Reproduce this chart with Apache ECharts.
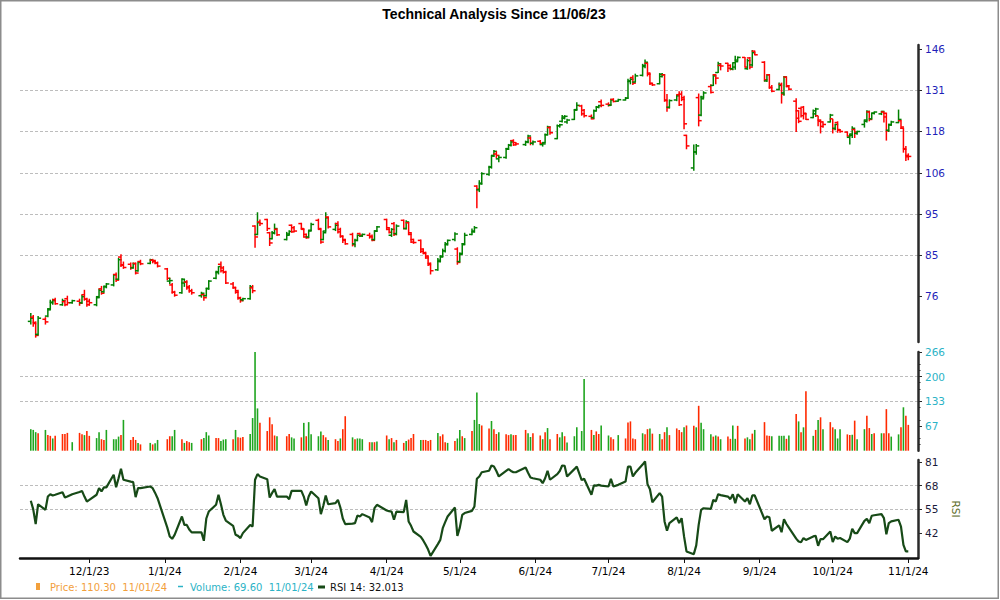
<!DOCTYPE html>
<html>
<head>
<meta charset="utf-8">
<script src="https://cdn.jsdelivr.net/npm/echarts@6/dist/echarts.min.js"></script>
<style>
html,body{margin:0;padding:0;background:#fff;}
#chart{width:1000px;height:600px;}
</style>
</head>
<body>
<div id="chart"></div>
<script>
// ---------------- DATA ----------------
const chartTitle = 'Technical Analysis Since 11/06/23';

const months = ['2023-11','2023-12','2024-01','2024-02','2024-03','2024-04','2024-05','2024-06','2024-07','2024-08','2024-09','2024-10','2024-11'];
const monthDays = [
  [7,8,9,10,13,14,15,16,17,20,21,22,24,27,28,29,30],
  [1,4,5,6,7,8,11,12,13,14,15,18,19,20,21,22,26,27,28,29],
  [2,3,4,5,8,9,10,11,12,16,17,18,19,22,23,24,25,26,29,30,31],
  [1,2,5,6,7,8,9,12,13,14,15,16,20,21,22,23,26,27,28,29],
  [1,4,5,6,7,8,11,12,13,14,15,18,19,20,21,22,25,26,27,28],
  [1,2,3,4,5,8,9,10,11,12,15,16,17,18,19,22,23,24,25,26,29,30],
  [1,2,3,6,7,8,9,10,13,14,15,16,17,20,21,22,23,24,28,29,30,31],
  [3,4,5,6,7,10,11,12,13,14,17,18,20,21,24,25,26,27,28],
  [1,2,3,5,8,9,10,11,12,15,16,17,18,19,22,23,24,25,26,29,30,31],
  [1,2,5,6,7,8,9,12,13,14,15,16,19,20,21,22,23,26,27,28,29,30],
  [3,4,5,6,9,10,11,12,13,16,17,18,19,20,23,24,25,26,27,30],
  [1,2,3,4,7,8,9,10,11,14,15,16,17,18,21,22,23,24,25,28,29,30,31],
  [1]
];

// [open, high, low, close]
const ohlc = [
  // Nov 2023
  [71.4,73.0,70.8,72.0],[72.2,72.6,70.4,71.0],[71.2,71.4,68.4,68.8],[69.0,72.4,68.8,72.0],[71.8,72.2,70.8,71.3],
  [72.4,73.9,72.2,73.6],[73.8,75.6,73.6,75.0],[75.1,75.8,74.6,75.4],[75.6,76.0,74.6,74.8],[74.6,75.8,74.4,75.4],
  [75.2,75.6,74.3,74.6],[75.8,76.4,74.5,75.0],[75.0,75.6,74.8,75.4],[75.3,75.8,74.4,74.9],[75.0,76.6,74.8,76.2],
  [76.6,77.6,75.4,75.7],[75.7,76.0,74.2,74.6],
  // Dec 2023
  [75.3,75.8,74.4,75.0],[74.6,76.3,74.3,76.0],[76.2,77.8,76.0,77.5],[77.8,78.4,76.6,76.9],[77.2,78.5,77.0,78.3],
  [78.2,79.0,77.9,78.8],[78.6,80.9,78.3,80.7],[80.8,81.2,79.2,79.6],[79.8,84.4,79.6,84.0],[84.6,85.2,82.4,82.9],
  [82.8,83.6,82.0,82.3],[83.0,83.4,81.8,82.3],[82.2,83.4,82.0,83.1],[83.2,83.4,80.8,81.1],[81.6,83.6,81.4,83.4],
  [83.6,84.0,82.8,83.1],[83.2,84.2,83.0,84.0],[83.9,84.2,83.2,83.6],[83.8,84.0,83.0,83.3],[83.3,83.6,82.3,82.6],
  // Jan 2024
  [82.0,82.2,79.6,80.0],[79.4,80.1,78.8,79.5],[78.6,79.0,76.8,77.1],[77.1,77.4,76.2,76.5],[77.0,80.0,76.8,79.8],
  [79.0,79.8,78.2,79.2],[79.2,79.6,77.6,78.0],[78.2,78.6,77.0,77.4],[77.4,77.8,76.6,77.0],[76.4,77.2,76.0,76.9],
  [76.6,76.8,75.4,76.0],[76.4,78.0,76.2,77.8],[77.9,79.6,77.6,79.4],[80.0,81.6,79.8,81.4],[81.2,82.6,80.8,82.5],
  [83.0,83.6,81.2,81.6],[82.2,82.6,81.0,81.3],[81.3,81.6,78.8,79.0],[78.8,79.2,77.8,78.1],[78.0,78.2,76.8,77.1],
  [77.4,77.6,75.6,75.9],
  // Feb 2024
  [76.0,76.2,75.0,75.4],[75.6,76.0,75.3,75.8],[75.8,78.6,75.6,78.2],[78.0,78.6,76.9,77.4],[91.8,92.0,86.7,89.2],
  [89.8,95.2,89.6,92.6],[92.8,93.4,91.8,92.4],[93.4,93.6,90.6,91.2],[90.2,90.4,87.1,87.8],[88.8,90.6,88.6,90.1],
  [90.2,92.4,89.8,91.2],[91.0,91.2,89.4,89.7],[88.6,90.4,88.4,89.9],[89.6,90.8,89.5,90.5],[92.0,92.2,90.2,90.4],
  [91.4,91.8,90.4,90.6],[92.4,92.6,90.9,91.0],[91.2,91.3,89.0,89.2],[89.8,90.0,88.8,89.0],[89.2,90.8,89.0,90.6],
  // Mar 2024
  [90.8,92.6,90.6,92.2],[93.2,93.6,91.0,91.2],[91.0,91.2,87.6,88.0],[88.6,90.6,88.4,90.2],[90.6,95.2,90.4,93.8],
  [94.0,94.2,91.2,91.6],[91.0,92.6,90.6,92.0],[92.4,93.0,90.0,90.4],[91.0,91.4,89.0,89.3],[89.4,89.6,87.8,88.4],
  [88.6,88.8,87.4,87.6],[89.8,90.2,87.0,87.4],[87.6,88.8,86.8,88.4],[88.4,89.8,88.2,89.6],[90.0,90.2,89.2,89.6],
  [89.4,90.0,89.2,89.8],[89.6,90.2,88.8,89.2],[89.4,89.8,88.2,88.4],[88.6,90.8,88.4,90.6],[90.6,91.8,90.4,91.6],
  // Apr 2024
  [93.4,93.6,90.8,91.0],[91.4,91.6,90.0,90.3],[89.6,91.3,89.2,91.0],[92.4,92.8,89.4,89.8],[90.0,92.2,89.6,91.8],
  [93.2,93.4,91.0,91.2],[91.2,93.2,91.0,92.8],[92.6,92.8,89.6,89.8],[90.2,90.4,87.8,88.0],[88.6,88.8,87.6,87.9],
  [88.4,88.6,85.5,85.9],[86.4,86.6,85.2,85.4],[85.6,85.8,84.2,84.4],[84.8,85.0,82.6,82.9],[83.2,83.4,80.8,81.6],
  [81.8,84.4,81.6,83.9],[83.6,85.0,83.4,84.6],[84.8,86.5,84.6,86.0],[86.0,88.0,85.6,87.6],[87.4,88.6,87.2,88.4],
  [88.6,90.3,88.2,89.9],[86.4,86.8,82.9,83.4],
  // May 2024
  [83.6,85.6,83.4,85.2],[85.4,87.8,85.2,87.4],[87.6,90.2,87.4,89.6],[89.8,91.2,89.6,90.6],[90.4,91.8,90.2,91.4],
  [102.0,102.2,96.2,101.2],[101.0,103.6,100.4,102.6],[102.8,105.8,102.4,105.4],[105.2,107.6,104.8,107.3],[107.2,110.6,106.8,110.4],
  [110.6,112.2,110.2,111.8],[111.0,111.8,109.8,110.6],[109.6,110.6,108.6,110.0],[110.0,112.8,109.6,112.4],[112.6,114.0,112.2,113.6],
  [113.6,115.2,113.2,114.6],[115.0,115.4,113.4,113.7],[114.4,114.6,113.6,114.0],[113.8,115.0,113.4,114.6],[114.6,116.8,114.2,116.4],
  [115.8,116.2,113.6,114.2],[114.2,115.0,113.6,114.6],
  // Jun 2024
  [114.8,115.2,113.8,114.2],[113.8,114.4,113.2,114.0],[114.4,117.2,114.2,116.8],[116.8,119.6,116.6,119.2],[119.0,119.4,116.8,117.4],
  [115.6,120.0,115.4,119.6],[119.6,120.2,119.0,119.9],[121.0,123.0,120.6,122.4],[122.0,123.0,121.6,122.6],[120.8,121.8,120.2,121.4],
  [121.6,125.0,121.4,124.8],[124.6,127.2,124.4,126.2],[126.0,126.4,122.8,123.4],[124.6,125.0,122.2,122.8],[122.6,123.2,121.6,121.8],
  [122.2,124.8,121.8,124.4],[124.4,126.0,124.2,125.6],[125.6,126.4,125.2,126.1],[127.4,128.2,125.6,126.2],
  // Jul 2024
  [126.6,127.2,125.8,126.4],[126.2,128.4,126.0,128.0],[128.2,128.6,127.2,127.5],[127.6,128.4,127.4,128.1],[128.0,129.0,127.8,128.6],
  [128.6,135.4,128.4,134.6],[134.4,135.6,133.4,135.2],[135.8,136.6,133.2,133.8],[134.2,137.2,134.0,136.4],[136.6,140.8,136.2,140.2],
  [139.8,142.4,139.2,141.4],[141.0,141.2,136.2,137.0],[137.4,137.6,133.2,133.6],[133.8,134.0,132.8,133.2],[133.6,137.4,133.4,137.0],
  [136.2,137.4,135.8,136.8],[136.8,137.0,127.4,127.8],[128.0,130.0,124.1,125.4],[125.6,128.2,125.2,127.8],[128.0,129.8,127.6,129.4],
  [129.8,131.0,126.0,126.4],[130.0,131.0,127.6,128.2],
  // Aug 2024
  [128.8,129.4,118.5,120.2],[116.6,116.8,112.4,113.4],[107.0,113.8,106.2,111.6],[111.6,114.0,110.8,113.4],[128.8,130.2,119.4,121.2],
  [123.0,129.4,122.6,128.4],[129.0,131.0,128.6,130.4],[132.6,133.4,130.2,130.6],[133.0,136.9,132.8,136.4],[136.8,137.0,133.4,135.6],
  [137.6,141.6,137.4,140.8],[140.2,141.0,138.4,140.0],[141.0,141.2,137.8,139.2],[140.2,140.6,138.4,138.8],[139.0,141.4,138.4,141.2],
  [139.6,143.8,138.6,141.6],[142.2,143.6,141.8,143.2],[143.2,143.4,139.4,139.6],[139.0,142.6,138.6,142.0],[143.0,143.4,138.8,139.6],
  [140.4,146.0,139.8,145.0],[145.6,145.8,144.0,144.2],
  // Sep 2024
  [141.4,141.8,134.4,135.0],[134.6,137.0,134.2,136.8],[136.8,137.0,131.8,132.2],[132.4,133.2,130.6,131.0],[131.6,134.0,131.2,133.0],
  [133.4,134.0,126.8,130.0],[130.4,136.4,129.4,136.0],[136.0,136.2,132.4,132.9],[132.6,133.2,131.2,131.7],[127.6,128.6,117.6,122.0],
  [124.4,124.6,120.4,121.0],[125.2,125.4,122.2,122.8],[125.6,126.0,121.6,123.4],[123.6,123.8,121.4,121.6],[122.2,124.8,122.0,124.4],
  [123.4,125.4,122.4,125.0],[122.8,122.8,119.4,121.0],[121.4,121.6,117.2,119.4],[120.8,121.0,119.0,120.0],[120.8,123.4,120.6,123.0],
  // Oct 2024
  [121.8,121.8,117.2,118.6],[118.8,120.2,118.2,120.0],[120.6,121.0,117.4,118.2],[118.4,118.6,117.4,117.8],[117.6,117.8,116.2,116.4],
  [116.0,117.2,113.8,117.0],[116.6,119.4,115.8,118.8],[118.4,118.6,115.8,117.6],[117.2,118.0,116.8,117.8],[120.0,121.6,119.0,121.4],
  [121.0,124.6,120.6,124.2],[124.0,124.4,121.0,121.6],[121.8,123.8,121.6,123.6],[123.6,124.2,123.2,124.0],[123.4,124.4,123.0,124.2],
  [124.0,124.2,120.6,122.4],[123.6,123.8,115.0,118.0],[118.2,120.2,117.6,119.8],[120.0,121.2,119.6,120.8],[120.6,124.8,120.4,121.6],
  [121.2,121.4,118.6,119.2],[118.8,119.0,111.4,112.4],[112.6,113.4,109.0,110.2],
  // Nov 2024
  [110.6,111.2,109.2,110.3]
];

const volume = [
  58,56,50,47,56,42,40,33,40,45,45,48,23,48,44,42,53,
  40,34,50,31,29,56,31,31,38,42,83,29,37,29,21,17,21,17,20,29,
  31,39,39,56,31,21,26,23,21,31,34,50,41,34,34,26,30,31,31,56,36,
  35,37,45,88,266,114,75,53,90,71,41,39,39,45,36,33,36,75,39,77,
  44,39,52,42,36,29,31,26,33,58,93,36,31,33,33,31,23,23,23,25,
  41,31,34,23,29,21,26,30,34,45,29,29,29,26,29,48,39,44,23,21,26,33,
  56,39,34,53,83,157,72,68,60,80,58,45,50,44,42,44,42,42,56,47,37,47,
  41,31,50,61,31,45,36,50,39,22,39,63,53,193,56,42,52,45,68,
  41,36,31,42,33,76,79,33,31,47,44,58,60,46,45,31,50,63,42,60,56,50,
  63,68,67,63,121,75,58,44,38,41,38,31,38,32,68,32,67,33,36,31,46,56,
  77,41,40,39,40,40,40,32,41,99,79,50,63,160,40,56,83,90,58,77,
  63,58,33,58,44,42,43,81,31,58,94,61,45,47,47,47,112,47,38,44,63,117,94,
  69.6
];

// colour of each volume bar as drawn (G = green, R = red), one string per month
const volumeColours = [
  'GGGRGRRGRRRRGRRGR',
  'RGGRRGGGGRGRRRGRGRGG',
  'RRGGRGRRGRGGGRRGGGRGR',
  'RRGGGGRRRRRGRRGGRGRG',
  'GGGRRGRRGRRGRGGGRGRG',
  'RGRGRRGRRRGRRRRGRRRGRG',
  'GRGRGGGRRGRRGRRGRRRGGR',
  'RGRGRRGGRGGGGGRGRRG',
  'GRRGRRRRRGRRGRGRRGRRRR',
  'GRRGRGGGRGRGRRGGRRGGRG',
  'RRRGGGGRGRGRGRGRGRGR',
  'RGGGRRGRGGRRGRGRRRGGRGR',
  'R'
];

const rsi = [
  59.7,55,46.9,57.8,54.7,62,63.3,62.6,63,64.4,61.5,62,63.3,64.5,65.1,62,59.3,
  60.2,63,66.6,64.8,67,67,73.9,67.1,72,77.2,71.2,70.2,69.9,61.7,66.6,66.6,67.5,66.6,64,61.1,
  45,40.2,38.9,41,51.1,46.5,46.5,44,42.4,42.4,37.8,50,53.8,57.5,63,57.8,52,48.9,46,41.1,40.5,
  39.3,42,46.5,45.6,71.2,74.3,73,71.5,61.5,64,66.1,62,62,60.6,65.1,65.1,65.1,62,57.1,62,
  64.8,61.1,52.4,57,62.6,57.8,58.4,60.2,56,50,46.9,47.2,47.5,51.6,51.1,52.4,50.5,48,55.7,57.5,
  54.4,54,53.8,49.3,53.8,53.5,60.2,48.4,46,42.9,40,38,35.6,33,29.6,36,38.3,44.7,48,51.1,56,40.5,
  45,52,53,54.2,56.6,71.7,73,75.3,76.1,79,78.4,76,73,76,77,76,75.3,75.3,77.9,75,72.4,72,
  71.2,69.3,72,76.1,71.2,74.3,76,79,78.8,73,77,78.4,71,71.7,63,68.1,68,68.4,68,
  67.5,71.7,67.5,68.4,70.2,78.4,78.4,73,75,79.5,81.2,68.8,66,58.9,63.9,62,48.4,43.3,47.5,50.6,47.5,50.2,
  40.2,32,30.5,35.3,46.5,54.7,55.6,55.3,60.2,59.3,63.3,62.8,62,60.6,63.3,58.4,63.3,59.3,61.1,57.8,62.6,62.6,
  49.6,51.1,50.7,43.3,46.2,42.5,49.6,47,45,39,37.4,37,39.3,38.3,40.2,40.5,35.1,38.7,38.7,42.9,
  37.1,40.2,38.9,39.3,37.1,39,44.4,42,42,48.7,49.8,47.5,51.5,51.8,52.4,50.2,41.4,47.5,48.4,49.3,45.6,35.6,32,
  32.013
];

// axis tick values (price gridlines sit on a log scale; labels are rounded)
const priceTicks = [76.3, 85.0, 94.8, 105.65, 117.8, 131.3, 146.3];
const volumeTicks = [66.5, 133, 199.5, 266];
const rsiTicks = [42, 55, 68, 81];
const dateTickLabels = ['12/1/23','1/1/24','2/1/24','3/1/24','4/1/24','5/1/24','6/1/24','7/1/24','8/1/24','9/1/24','10/1/24','11/1/24'];

// ---------------- BUILD ----------------
const dates = [];
months.forEach((m, i) => {
  const [y, mo] = m.split('-').map(Number);
  monthDays[i].forEach(d => dates.push(new Date(y, mo - 1, d).getTime()));
});
const volColourFlags = volumeColours.join('').split('');
function parseMDY(s) {
  const [m, d, y] = s.split('/').map(Number);
  return new Date(2000 + y, m - 1, d).getTime();
}
function fmtDate(ts, pad) {
  const d = new Date(ts);
  const m = d.getMonth() + 1, day = d.getDate(), yy = String(d.getFullYear()).slice(2);
  return pad ? `${String(m).padStart(2,'0')}/${String(day).padStart(2,'0')}/${yy}` : `${m}/${day}/${yy}`;
}
const dateTicks = dateTickLabels.map(parseMDY);

const GREEN = '#008000', RED = '#ff0000';
const VGREEN = '#1fa51f', VRED = '#ff2a00';
const priceData = dates.map((t, i) => [t, ohlc[i][0], ohlc[i][1], ohlc[i][2], ohlc[i][3]]);
const volData = dates.map((t, i) => ({
  value: [t, volume[i]],
  itemStyle: { color: volColourFlags[i] === 'G' ? VGREEN : VRED }
}));
const rsiData = dates.map((t, i) => [t, rsi[i]]);

const xMin = new Date(2023, 10, 2, 13, 40).getTime();
const xMax = new Date(2024, 10, 4, 23, 30).getTime();
const FONT = 'DejaVu Sans';
const gridLine = { show: true, showMinLine: false, showMaxLine: false, lineStyle: { color: '#bdbdbd', type: [3, 2], width: 1 } };
const axisLineStyle = { show: true, lineStyle: { color: '#2a2a2a', width: 2.5 } };

const last = dates.length - 1;
const legendPrice = `Price: ${ohlc[last][3].toFixed(2)}  ${fmtDate(dates[last], true)}`;
const legendVol = `Volume: ${volume[last].toFixed(2)}  ${fmtDate(dates[last], true)}`;
const legendRsi = `RSI 14: ${rsi[last].toFixed(3)}`;

const chart = echarts.init(document.getElementById('chart'), null, { renderer: 'svg' });

function xAxisBase(gi) {
  return { type: 'value', gridIndex: gi, min: xMin, max: xMax, show: false, scale: true, splitLine: { show: false } };
}

const option = {
  animation: false,
  backgroundColor: '#fff',
  title: {
    text: chartTitle, left: 489, top: 2, textAlign: 'center',
    textStyle: { fontFamily: 'Liberation Sans', fontWeight: 'bold', fontSize: 14, color: '#000' }
  },
  grid: [
    { left: 20, right: 82, top: 45, height: 297 },
    { left: 20, right: 82, top: 352, height: 98.7 },
    { left: 20, right: 82, top: 460, height: 98 }
  ],
  xAxis: [
    xAxisBase(0),
    xAxisBase(1),
    Object.assign(xAxisBase(2), {
      show: true,
      axisLine: { show: true, onZero: false, lineStyle: { color: '#111', width: 2.5 } },
      axisTick: { show: true, customValues: dateTicks, length: 5, lineStyle: { color: '#111', width: 1 } },
      axisLabel: { customValues: dateTicks, formatter: v => fmtDate(v, false), color: '#000', fontFamily: FONT, fontSize: 10.5, margin: 7, hideOverlap: false }
    })
  ],
  yAxis: [
    {
      type: 'log', logBase: 10, gridIndex: 0, position: 'right', min: 67.62, max: 147.97,
      axisLine: axisLineStyle,
      axisTick: { show: true, customValues: priceTicks, length: 4, lineStyle: { color: '#2a2a2a' } },
      axisLabel: { customValues: priceTicks, formatter: v => String(Math.round(v)), color: '#1f1fb8', fontFamily: FONT, fontSize: 10.5, margin: 7 },
      splitLine: gridLine
    },
    {
      type: 'value', gridIndex: 1, position: 'right', min: 0, max: 266,
      axisLine: axisLineStyle,
      axisTick: { show: true, customValues: volumeTicks, length: 4, lineStyle: { color: '#2a2a2a' } },
      minorTick: { show: true, splitNumber: 3, length: 2.5, lineStyle: { color: '#2a2a2a' } },
      axisLabel: { customValues: volumeTicks, formatter: v => String(Math.round(v)), color: '#2cb3c6', fontFamily: FONT, fontSize: 10.5, margin: 7 },
      splitLine: gridLine
    },
    {
      type: 'value', gridIndex: 2, position: 'right', min: 28.4, max: 82,
      name: 'RSI', nameLocation: 'middle', nameRotate: -90, nameGap: 32,
      nameTextStyle: { color: '#5c6b1e', fontFamily: FONT, fontSize: 10.5 },
      axisLine: axisLineStyle,
      axisTick: { show: true, customValues: rsiTicks, length: 4, lineStyle: { color: '#2a2a2a' } },
      axisLabel: { customValues: rsiTicks, formatter: v => String(Math.round(v)), color: '#1a1a3a', fontFamily: FONT, fontSize: 10.5, margin: 7 },
      splitLine: gridLine
    }
  ],
  series: [
    {
      type: 'custom', name: 'Price', xAxisIndex: 0, yAxisIndex: 0, clip: true,
      data: priceData,
      encode: { x: 0, y: [1, 2, 3, 4] },
      renderItem: function (params, api) {
        const t = api.value(0);
        const o = api.coord([t, api.value(1)]);
        const h = api.coord([t, api.value(2)]);
        const l = api.coord([t, api.value(3)]);
        const c = api.coord([t, api.value(4)]);
        const col = api.value(4) >= api.value(1) ? GREEN : RED;
        const st = { stroke: col, lineWidth: 1.5 };
        return {
          type: 'group',
          children: [
            { type: 'line', shape: { x1: h[0], y1: h[1], x2: l[0], y2: l[1] }, style: st },
            { type: 'line', shape: { x1: o[0] - 3, y1: o[1], x2: o[0], y2: o[1] }, style: st },
            { type: 'line', shape: { x1: c[0], y1: c[1], x2: c[0] + 3, y2: c[1] }, style: st }
          ]
        };
      }
    },
    {
      type: 'bar', name: 'Volume', xAxisIndex: 1, yAxisIndex: 1, barWidth: 1.6,
      data: volData
    },
    {
      type: 'line', name: 'RSI 14', xAxisIndex: 2, yAxisIndex: 2, showSymbol: false, symbol: 'none',
      lineStyle: { color: '#174a17', width: 2.2 },
      data: rsiData
    }
  ],
  graphic: [
    { type: 'rect', silent: true, shape: { x: 0.75, y: 0.75, width: 997.5, height: 597.5 }, style: { fill: 'none', stroke: '#8c8c8c', lineWidth: 1.5 } },
    { type: 'rect', shape: { x: 36, y: 583, width: 4, height: 7 }, style: { fill: '#f2a03c' } },
    { type: 'text', x: 50, y: 587, style: { text: legendPrice, fill: '#f2a03c', font: '10px "DejaVu Sans"', verticalAlign: 'middle' } },
    { type: 'line', shape: { x1: 178, y1: 586.5, x2: 183, y2: 586.5 }, style: { stroke: '#2cb3c6', lineWidth: 1.5 } },
    { type: 'text', x: 190, y: 587, style: { text: legendVol, fill: '#2cb3c6', font: '10px "DejaVu Sans"', verticalAlign: 'middle' } },
    { type: 'line', shape: { x1: 318, y1: 587, x2: 325, y2: 587 }, style: { stroke: '#174a17', lineWidth: 3 } },
    { type: 'text', x: 330, y: 587, style: { text: legendRsi, fill: '#111', font: '10px "DejaVu Sans"', verticalAlign: 'middle' } }
  ]
};

if (ohlc.length !== dates.length || volume.length !== dates.length || rsi.length !== dates.length || volColourFlags.length !== dates.length) {
  option.graphic.push({ type: 'text', x: 300, y: 300, style: { text: `LEN MISMATCH d${dates.length} p${ohlc.length} v${volume.length} r${rsi.length} c${volColourFlags.length}`, fill: 'red', font: '20px sans-serif' } });
}
chart.setOption(option);
</script>
</body>
</html>
